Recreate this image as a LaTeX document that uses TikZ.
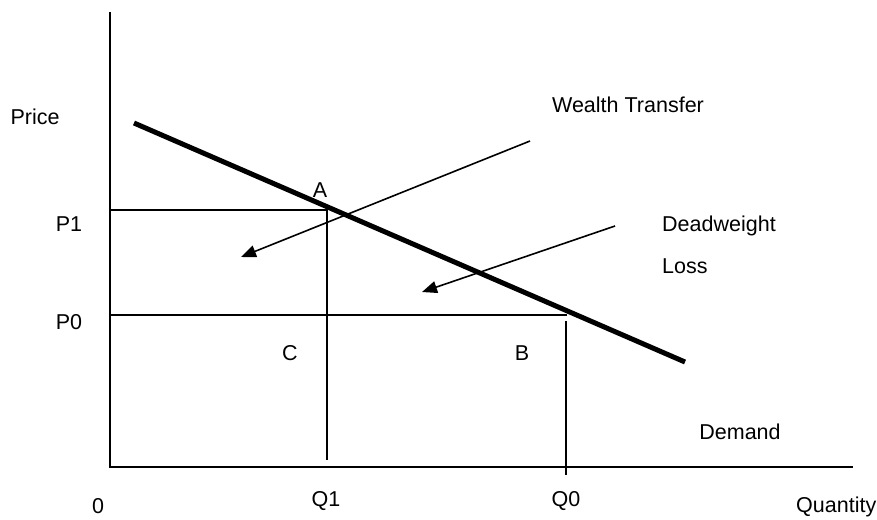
\documentclass[tikz,border=0pt]{standalone}
\usepackage{fontspec}
\setmainfont{Liberation Sans}
\usetikzlibrary{arrows.meta}
\begin{document}
\begin{tikzpicture}[x=1pt,y=-1pt,
  lbl/.style={inner sep=0pt,font=\fontsize{21.5}{26}\selectfont},
  axisline/.style={line width=2pt},
  guide/.style={line width=1.6pt},
  demandline/.style={line width=5pt},
  pointer/.style={line width=1.6pt,-{Triangle[length=15pt,width=12pt]}}]
\useasboundingbox (0,0) rectangle (877,519);
% coordinates
\coordinate (ytop) at (110,12);
\coordinate (origin) at (110,467);
\coordinate (xend) at (853,467);
\coordinate (dstart) at (134,123);
\coordinate (dend) at (685,362);
\coordinate (p1l) at (110,210);
\coordinate (p1r) at (327,210);
\coordinate (q1b) at (326,460);
\coordinate (p0l) at (110,315);
\coordinate (p0r) at (567,315);
\coordinate (q0t) at (566,321);
\coordinate (q0b) at (566,475);
\coordinate (wtstart) at (530,141);
\coordinate (wttip) at (241,257);
\coordinate (dwstart) at (615,226);
\coordinate (dwtip) at (422,292);
% axes
\draw[axisline] (ytop) -- (origin) -- (xend);
% guide lines
\draw[guide] (p1l) -- (p1r) -- (p1r |- q1b);
\draw[guide] (p0l) -- (p0r);
\draw[guide] (q0t) -- (q0b);
% demand
\draw[demandline] (dstart) -- (dend);
% arrows
\draw[pointer] (wtstart) -- (wttip);
\draw[pointer] (dwstart) -- (dwtip);
% labels
\node[lbl] (price) at (35,117) {Price};
\node[lbl] (wt) at (628,105) {Wealth Transfer};
\node[lbl] (a) at (320,190) {A};
\node[lbl] (p1) at (69,224) {P1};
\node[lbl] (p0) at (69,322) {P0};
\node[lbl,anchor=west] (dw) at (662,226) {Deadweight};
\node[lbl,anchor=west] (loss) at (662,266) {Loss};
\node[lbl] (c) at (290,353) {C};
\node[lbl] (b) at (522,353) {B};
\node[lbl] (demand) at (740,432) {Demand};
\node[lbl] (zero) at (98,506) {0};
\node[lbl] (q1) at (326,501) {Q1};
\node[lbl] (q0) at (566,501) {Q0};
\node[lbl,anchor=west] (qty) at (796,507) {Quantity};
\end{tikzpicture}
\end{document}
